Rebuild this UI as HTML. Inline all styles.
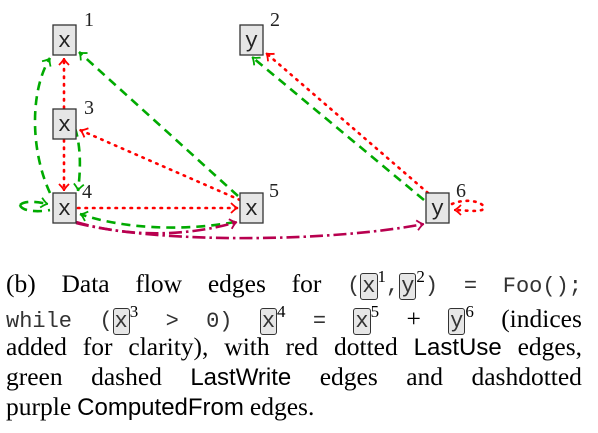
<!DOCTYPE html>
<html><head><meta charset="utf-8"><style>
body{margin:0;width:598px;height:433px;background:#fff;overflow:hidden;position:relative}
.ln{position:absolute;left:6px;width:576px;font-family:"Liberation Serif",serif;font-size:25.5px;white-space:nowrap;display:flex;justify-content:space-between;align-items:baseline;line-height:30px}
.tt{font-family:"Liberation Mono",monospace;font-size:22px;color:#333}
.ss{font-family:"Liberation Sans",sans-serif;font-size:24px}
.bx{font-family:"Liberation Mono",monospace;font-size:22px;color:#333;background:#e6e6e6;border:1px solid #333;border-radius:3px;padding:0 1px;line-height:22px}
sup{font-size:17px}
</style></head><body>
<svg width="598" height="245" style="position:absolute;left:0;top:0">
<defs>
<marker id="ar" markerWidth="12" markerHeight="12" refX="8" refY="6" orient="auto" markerUnits="userSpaceOnUse"><path d="M1,1 Q6,6 8,6 Q6,6 1,11" fill="none" stroke="#f00" stroke-width="1.8"/></marker>
<marker id="ag" markerWidth="12" markerHeight="12" refX="8" refY="6" orient="auto" markerUnits="userSpaceOnUse"><path d="M1,1 Q6,6 8,6 Q6,6 1,11" fill="none" stroke="#00aa00" stroke-width="1.8"/></marker>
<marker id="ap" markerWidth="12" markerHeight="12" refX="8" refY="6" orient="auto" markerUnits="userSpaceOnUse"><path d="M1,1 Q6,6 8,6 Q6,6 1,11" fill="none" stroke="#b8004f" stroke-width="1.8"/></marker>
</defs>
<g fill="none" stroke-width="2.6">
<g stroke="#f00" stroke-dasharray="1.5 6" stroke-linecap="round">
<path d="M64,108 L64,58" marker-end="url(#ar)"/>
<path d="M64,140 L64,191" marker-end="url(#ar)"/>
<path d="M240,200 L80,130" marker-end="url(#ar)"/>
<path d="M78,208 L238,208" marker-end="url(#ar)"/>
<path d="M428,193 L266,53" marker-end="url(#ar)"/>
<path d="M452,204 C470,196 490,205 482,210 C475,212 462,210 454,210" marker-end="url(#ar)"/>
</g>
<g stroke="#00aa00" stroke-dasharray="9 6">
<path d="M238,196 L79,52" marker-end="url(#ag)"/>
<path d="M50,193 C30,150 30,90 50,58" marker-end="url(#ag)"/>
<path d="M75,128 C82,150 80,175 78,191" marker-end="url(#ag)"/>
<path d="M20,205 C25,200 38,202 48,204" marker-end="url(#ag)"/>
<path d="M20,205 C22,212 40,212 50,210"/>
<path d="M235,222 C180,232 120,228 80,214" marker-end="url(#ag)"/>
<path d="M424,200 L252,57" marker-end="url(#ag)"/>
</g>
<g stroke="#b8004f" stroke-dasharray="13 4 2.5 4">
<path d="M76,222 C130,238 190,236 237,222" marker-end="url(#ap)"/>
<path d="M76,223 C160,244 330,242 424,224" marker-end="url(#ap)"/>
</g>
</g>
<g font-family="Liberation Mono,monospace" font-size="22" text-anchor="middle" fill="#222">
<g><rect x="53" y="25" width="23" height="30" fill="#e6e6e6" stroke="#333" stroke-width="1.3"/><text x="64.5" y="47">x</text><text x="89" y="26" font-family="Liberation Serif,serif" font-size="20">1</text></g>
<g><rect x="240" y="25" width="23" height="30" fill="#e6e6e6" stroke="#333" stroke-width="1.3"/><text x="251.5" y="47">y</text><text x="275" y="26" font-family="Liberation Serif,serif" font-size="20">2</text></g>
<g><rect x="53" y="109" width="23" height="30" fill="#e6e6e6" stroke="#333" stroke-width="1.3"/><text x="64.5" y="131">x</text><text x="89" y="114" font-family="Liberation Serif,serif" font-size="20">3</text></g>
<g><rect x="53" y="193" width="23" height="30" fill="#e6e6e6" stroke="#333" stroke-width="1.3"/><text x="64.5" y="215">x</text><text x="87" y="198" font-family="Liberation Serif,serif" font-size="20">4</text></g>
<g><rect x="240" y="193" width="23" height="30" fill="#e6e6e6" stroke="#333" stroke-width="1.3"/><text x="251.5" y="215">x</text><text x="274" y="197" font-family="Liberation Serif,serif" font-size="20">5</text></g>
<g><rect x="426" y="193" width="23" height="30" fill="#e6e6e6" stroke="#333" stroke-width="1.3"/><text x="437.5" y="215">y</text><text x="461" y="197" font-family="Liberation Serif,serif" font-size="20">6</text></g>
</g>
</svg>
<div>
<div class="ln" style="top:262px"><span>(b)</span><span>Data</span><span>flow</span><span>edges</span><span>for</span><span><span class="tt">(</span><span class="bx">x</span><sup>1</sup><span class="tt">,</span><span class="bx">y</span><sup>2</sup><span class="tt">)</span></span><span class="tt">=</span><span class="tt">Foo();</span></div>
<div class="ln" style="top:297px"><span class="tt">while</span><span><span class="tt">(</span><span class="bx">x</span><sup>3</sup></span><span class="tt">&gt;</span><span class="tt">0)</span><span><span class="bx">x</span><sup>4</sup></span><span class="tt">=</span><span><span class="bx">x</span><sup>5</sup></span><span>+</span><span><span class="bx">y</span><sup>6</sup></span><span>(indices</span></div>
<div class="ln" style="top:332px"><span>added</span><span>for</span><span>clarity),</span><span>with</span><span>red</span><span>dotted</span><span class="ss">LastUse</span><span>edges,</span></div>
<div class="ln" style="top:362px"><span>green</span><span>dashed</span><span class="ss">LastWrite</span><span>edges</span><span>and</span><span>dashdotted</span></div>
<div class="ln" style="top:392px;justify-content:flex-start;gap:6px"><span>purple</span><span class="ss">ComputedFrom</span><span>edges.</span></div>
</div>
</body></html>
